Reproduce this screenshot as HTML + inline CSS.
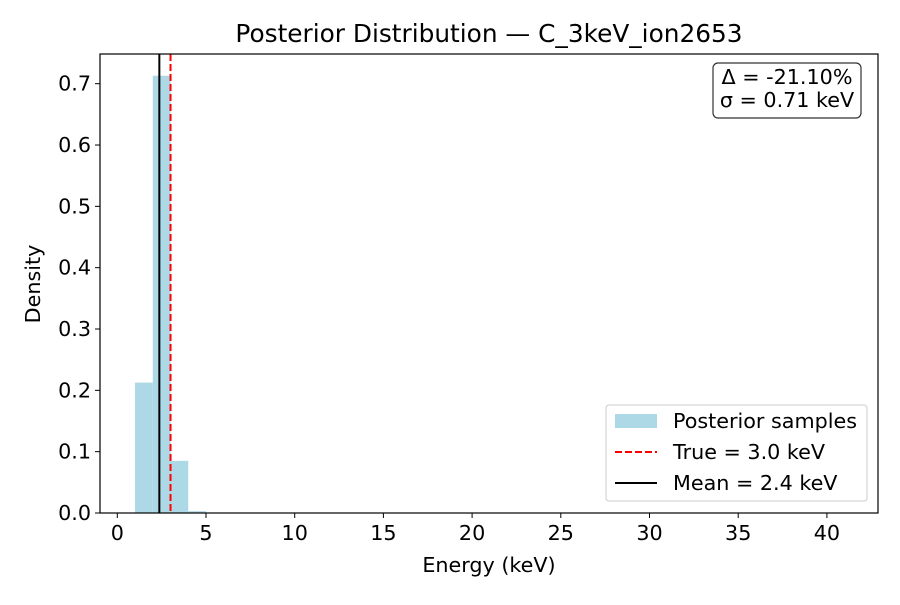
<!DOCTYPE html>
<html><head><meta charset="utf-8"><style>
body{margin:0;background:#fff}
text{font-family:"DejaVu Sans","Liberation Sans",sans-serif;fill:#000}
</style></head><body>
<svg id="chart" width="900" height="600" xmlns="http://www.w3.org/2000/svg">
<rect width="900" height="600" fill="#fff"/>
<text x="489" y="42" font-size="24.8" text-anchor="middle">Posterior Distribution — C_3keV_ion2653</text>
<g id="bars"></g>
<g id="lines"></g>
<rect x="100" y="54" width="778" height="459" fill="none" stroke="#000" stroke-width="1.2"/>
<g id="xticks"></g><g id="yticks"></g>
<text x="489" y="572" font-size="20.7" text-anchor="middle">Energy (keV)</text>
<text transform="translate(40,284) rotate(-90)" font-size="20.7" text-anchor="middle">Density</text>
<g>
<rect x="713" y="63" width="148" height="55" rx="5" fill="#fff" stroke="#333" stroke-width="1.2"/>
<text x="787" y="84" font-size="20.7" text-anchor="middle">Δ = -21.10%</text>
<text x="787" y="107" font-size="20.7" text-anchor="middle">σ = 0.71 keV</text>
</g>
<g>
<rect x="606" y="405" width="261" height="96" rx="3" fill="#fff" stroke="#ccc"/>
<rect x="615" y="414" width="42" height="14" fill="#add8e6"/>
<text x="673" y="428" font-size="20.7">Posterior samples</text>
<line x1="615" y1="452" x2="657" y2="452" stroke="#f00" stroke-width="2" stroke-dasharray="7,3"/>
<text x="673" y="459" font-size="20.7">True = 3.0 keV</text>
<line x1="615" y1="483" x2="657" y2="483" stroke="#000" stroke-width="2"/>
<text x="673" y="490" font-size="20.7">Mean = 2.4 keV</text>
</g>
</svg>
<script>
const binEdges=[1,2,3,4];
const binWidth=1;
const densities=[0.2126,0.713,0.085,0.003];
const xTicks=[0,5,10,15,20,25,30,35,40];
const yTicks=[0,0.1,0.2,0.3,0.4,0.5,0.6,0.7];
const trueValue=3.0;
const meanValue=2.37;
const NS="http://www.w3.org/2000/svg";
const X=v=>117.3+v*17.74;
const Y=v=>513-v*613.3;
function mk(t,a,p){const e=document.createElementNS(NS,t);for(const k in a)e.setAttribute(k,a[k]);p.appendChild(e);return e;}
const bars=document.getElementById('bars');
densities.forEach((d,i)=>{
 const r=mk('rect',{x:X(binEdges[i]),y:Y(d),width:X(binEdges[i]+binWidth)-X(binEdges[i]),height:Y(0)-Y(d),fill:'#add8e6'},bars);
 
 
});
const lines=document.getElementById('lines');
const tl=mk('line',{x1:X(trueValue),x2:X(trueValue),y1:54,y2:513,stroke:'#f00','stroke-width':2,'stroke-dasharray':'7,3'},lines);


const ml=mk('line',{x1:X(meanValue),x2:X(meanValue),y1:54,y2:513,stroke:'#000','stroke-width':2},lines);


const xg=document.getElementById('xticks');
xTicks.forEach(v=>{
 mk('line',{x1:X(v),x2:X(v),y1:513,y2:518,stroke:'#000'},xg);
 const t=mk('text',{x:X(v),y:540,'font-size':20.7,'text-anchor':'middle'},xg);t.textContent=v;
 
 
});
const yg=document.getElementById('yticks');
yTicks.forEach(v=>{
 mk('line',{x1:95,x2:100,y1:Y(v),y2:Y(v),stroke:'#000'},yg);
 const t=mk('text',{x:91,y:Y(v)+7,'font-size':20.7,'text-anchor':'end'},yg);t.textContent=v.toFixed(1);
 
 
});
</script>
</body></html>
